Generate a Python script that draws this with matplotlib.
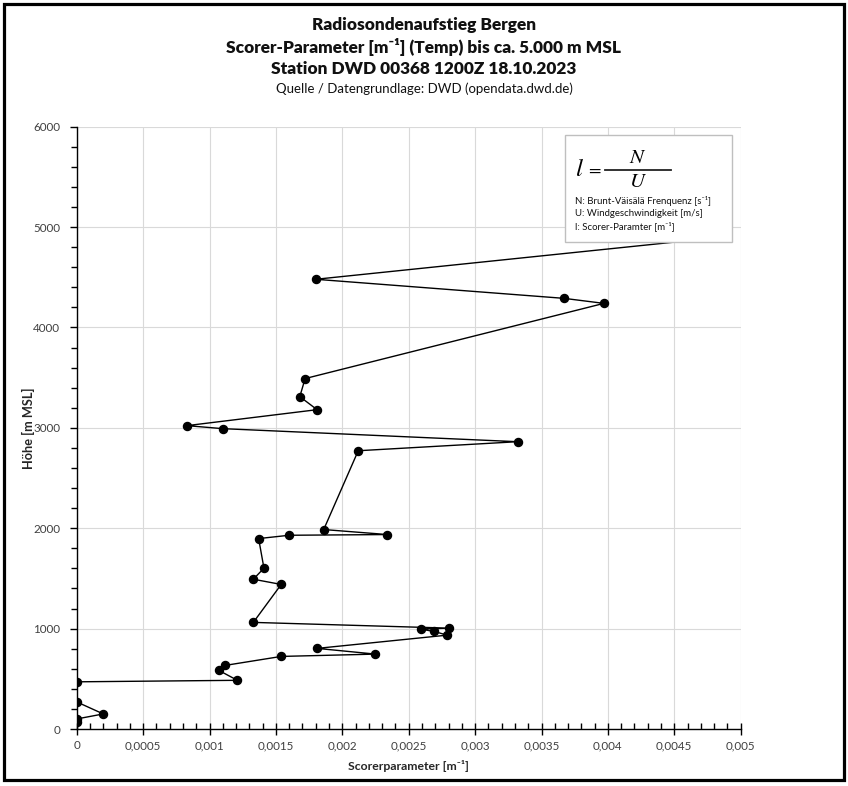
import matplotlib
matplotlib.use("Agg")
import matplotlib.pyplot as plt
from matplotlib.ticker import FixedLocator, MultipleLocator
from matplotlib.patches import Rectangle
from matplotlib.lines import Line2D

# ---------------- data ----------------
heights = [70, 100, 150, 270, 470, 485, 584, 634, 723, 746, 803, 935, 972, 995,
           1005, 1062, 1440, 1492, 1602, 1897, 1930, 1937, 1987, 2772, 2862,
           2992, 3022, 3181, 3311, 3491, 4240, 4290, 4480, 4905]
scorer = [0.0, 0.0, 0.0002, 0.0, 0.0, 0.00121, 0.00107, 0.00112, 0.00154,
          0.00225, 0.00181, 0.00279, 0.00269, 0.00259, 0.0028, 0.00133,
          0.00154, 0.00133, 0.00141, 0.00137, 0.0016, 0.00234, 0.00186,
          0.00212, 0.00332, 0.0011, 0.00083, 0.00181, 0.00168, 0.00172,
          0.00397, 0.00367, 0.0018, 0.0049]

xticks = [0, 0.0005, 0.001, 0.0015, 0.002, 0.0025, 0.003, 0.0035, 0.004, 0.0045, 0.005]
xtick_labels = ["0", "0,0005", "0,001", "0,0015", "0,002", "0,0025", "0,003",
                "0,0035", "0,004", "0,0045", "0,005"]
yticks = [0, 1000, 2000, 3000, 4000, 5000, 6000]
ytick_labels = ["0", "1000", "2000", "3000", "4000", "5000", "6000"]

title_lines = ["Radiosondenaufstieg Bergen",
               "Scorer-Parameter [m\u207b\u00b9] (Temp) bis ca. 5.000 m MSL",
               "Station DWD 00368 1200Z 18.10.2023"]
source_line = "Quelle / Datengrundlage: DWD (opendata.dwd.de)"
legend_lines = ["N: Brunt-V\u00e4is\u00e4l\u00e4 Frenquenz [s\u207b\u00b9]",
                "U: Windgeschwindigkeit [m/s]",
                "l: Scorer-Paramter [m\u207b\u00b9]"]

FONT = ["Lato", "DejaVu Sans"]
plt.rcParams["font.family"] = FONT

W, H = 848, 786
fig = plt.figure(figsize=(W / 100, H / 100), dpi=100)

def fx(px):
    return px / W

def fy(py):
    return 1 - py / H

AX_L, AX_R, AX_T, AX_B = 76.7, 740.7, 126.7, 729
ax = fig.add_axes([fx(AX_L), fy(AX_B), fx(AX_R) - fx(AX_L), fy(AX_T) - fy(AX_B)])

ax.plot(scorer, heights, color="black", linewidth=1.0, marker="o",
        markersize=5.8, zorder=3)

ax.set_xlim(0, 0.005)
ax.set_ylim(0, 6000)
ax.xaxis.set_major_locator(FixedLocator(xticks))
ax.set_xticklabels(xtick_labels)
ax.yaxis.set_major_locator(FixedLocator(yticks))
ax.set_yticklabels(ytick_labels)
ax.xaxis.set_minor_locator(MultipleLocator(0.0001))
ax.yaxis.set_minor_locator(MultipleLocator(200))

ax.grid(True, which="major", color="#d9d9d9", linewidth=0.8, zorder=0)
ax.set_axisbelow(True)
for s in ["top", "right"]:
    ax.spines[s].set_visible(False)
for s in ["left", "bottom"]:
    ax.spines[s].set_color("black")
    ax.spines[s].set_linewidth(1.0)

ax.tick_params(axis="x", which="major", direction="inout", length=8, width=1,
               labelsize=8.4, labelcolor="#404040", pad=4)
ax.tick_params(axis="x", which="minor", direction="in", length=4, width=1)
ax.tick_params(axis="y", which="major", direction="out", length=5, width=1,
               labelsize=8.4, labelcolor="#404040", pad=7)
ax.tick_params(axis="y", which="minor", direction="out", length=4, width=1)

ax.set_xlabel("Scorerparameter [m\u207b\u00b9]", fontsize=8.8, fontweight="bold",
              color="#262626")
ax.set_ylabel("H\u00f6he [m MSL]", fontsize=9.2, fontweight="bold",
              color="#262626")
ax.xaxis.set_label_coords((408 - AX_L) / (AX_R - AX_L), -(766 - AX_B) / (AX_B - AX_T))
ax.xaxis.label.set_va("center")
ax.yaxis.set_label_coords(-(AX_L - 28) / (AX_R - AX_L), (AX_B - 428) / (AX_B - AX_T))
ax.yaxis.label.set_va("center")

# titles
title_y = [25, 47, 69]
for t, yy in zip(title_lines, title_y):
    fig.text(0.5, fy(yy), t, ha="center", va="center", fontsize=12.4,
             fontweight="heavy", color="#111111")
fig.text(0.5, fy(89), source_line, ha="center", va="center", fontsize=9.5,
         color="#111111")

# info box
box = Rectangle((fx(565), fy(242)), fx(732) - fx(565), fy(135) - fy(242),
                transform=fig.transFigure, facecolor="white", edgecolor="#bfbfbf",
                linewidth=1.0, zorder=10)
fig.patches.append(box)
fig.text(fx(575), fy(168), r"$l$", fontsize=18, math_fontfamily="stix",
         ha="left", va="center", zorder=11)
fig.text(fx(594), fy(169), r"$=$", fontsize=13, math_fontfamily="stix",
         ha="center", va="center", zorder=11)
fig.add_artist(Line2D([fx(605), fx(671)], [fy(170), fy(170)], color="#222222",
                      linewidth=1.3, transform=fig.transFigure, zorder=11))
fig.text(fx(638), fy(157), r"$N$", fontsize=15, math_fontfamily="stix",
         ha="center", va="center", zorder=11)
fig.text(fx(638), fy(181), r"$U$", fontsize=15, math_fontfamily="stix",
         ha="center", va="center", zorder=11)
for t, yy in zip(legend_lines, [201, 213.5, 226]):
    fig.text(fx(575), fy(yy), t, fontsize=6.9, ha="left", va="center",
             color="#111111", zorder=11)

# outer chart border
border = Rectangle((fx(3.5), fy(780)), fx(843.5) - fx(3.5), fy(3.5) - fy(780),
                   transform=fig.transFigure, facecolor="none", edgecolor="black",
                   linewidth=2.3, zorder=20)
fig.patches.append(border)

fig.savefig("out.png", dpi=100)
